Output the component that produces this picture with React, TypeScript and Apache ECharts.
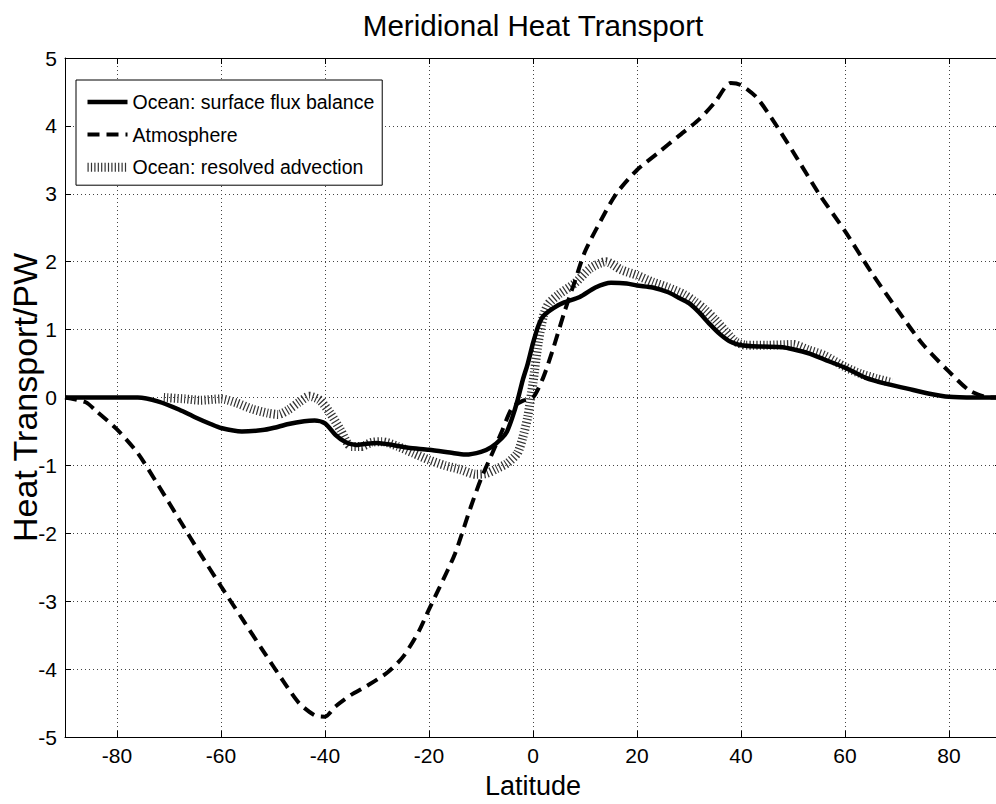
import React, { useEffect, useRef } from "react";
import * as echarts from "echarts";

const xTicks = [-80, -60, -40, -20, 0, 20, 40, 60, 80];

const oceanLat = [-90, -85, -80, -76, -72, -68, -65, -62, -60, -56, -52, -50, -47, -44, -42, -40, -38, -36, -34, -32, -30, -27, -24, -20, -16, -13, -10, -8, -6, -5, -4, -3, -2, -1, 0, 1, 2, 4, 6, 9, 12, 15, 18, 20, 23, 26, 28, 30, 32, 34, 36, 38, 40, 44, 48, 50, 53, 56, 60, 64, 68, 72, 76, 80, 85, 90];
const oceanVal = [0, 0, 0, 0, -0.06, -0.18, -0.29, -0.39, -0.45, -0.5, -0.48, -0.45, -0.39, -0.35, -0.34, -0.38, -0.55, -0.66, -0.7, -0.68, -0.67, -0.7, -0.74, -0.77, -0.81, -0.84, -0.8, -0.73, -0.6, -0.5, -0.3, -0.05, 0.25, 0.5, 0.8, 1.05, 1.2, 1.32, 1.4, 1.48, 1.62, 1.69, 1.68, 1.65, 1.62, 1.55, 1.47, 1.39, 1.25, 1.08, 0.93, 0.82, 0.77, 0.75, 0.74, 0.71, 0.65, 0.56, 0.44, 0.29, 0.2, 0.13, 0.06, 0.01, 0, 0];

const atmLat = [-90, -86, -84, -80, -76, -72, -68, -64, -60, -56, -52, -48, -45, -42, -40, -38, -35, -32, -28, -25, -22, -20, -18, -15, -12, -10, -8, -6, -4, -2, 0, 2, 4, 6, 8, 10, 13, 16, 20, 24, 28, 32, 35, 38, 40, 43, 46, 50, 55, 60, 65, 70, 75, 80, 84, 88, 90];
const atmVal = [0, -0.07, -0.2, -0.47, -0.82, -1.3, -1.8, -2.3, -2.78, -3.25, -3.72, -4.18, -4.5, -4.68, -4.7, -4.55, -4.38, -4.25, -4.05, -3.82, -3.45, -3.12, -2.8, -2.3, -1.62, -1.2, -0.85, -0.5, -0.15, -0.05, 0, 0.3, 0.75, 1.25, 1.7, 2.15, 2.6, 3.0, 3.35, 3.6, 3.85, 4.1, 4.35, 4.63, 4.6, 4.42, 4.1, 3.62, 3.0, 2.45, 1.85, 1.3, 0.78, 0.38, 0.1, 0, 0];

const advLat = [-71, -67, -64, -60, -57, -54, -51, -49, -47, -45, -43, -41, -39, -37, -35, -33, -31, -29, -26, -23, -20, -17, -14, -11, -9, -7, -5, -3, -2, -1, 0, 1, 2, 3, 5, 8, 11, 14, 17, 20, 23, 26, 29, 31, 33, 35, 37, 39, 41, 45, 50, 53, 56, 60, 63, 66, 69];
const advVal = [0, -0.02, -0.04, -0.02, -0.08, -0.17, -0.23, -0.25, -0.18, -0.07, 0.02, -0.04, -0.23, -0.48, -0.72, -0.72, -0.66, -0.65, -0.72, -0.82, -0.92, -1.0, -1.06, -1.13, -1.12, -1.05, -0.97, -0.82, -0.6, -0.28, 0.22, 0.8, 1.2, 1.38, 1.52, 1.68, 1.9, 2.0, 1.88, 1.8, 1.7, 1.62, 1.52, 1.42, 1.3, 1.15, 0.98, 0.82, 0.77, 0.77, 0.78, 0.7, 0.62, 0.45, 0.35, 0.28, 0.22];

const seriesNames = ["Ocean: surface flux balance", "Atmosphere", "Ocean: resolved advection"];

const FONT = "Liberation Sans, Arial, Helvetica, sans-serif";

function pairs(xs: number[], ys: number[]) {
  return xs.map((x, i) => [x, ys[i]]);
}

export default function App() {
  const ref = useRef<HTMLDivElement>(null);
  useEffect(() => {
    if (!ref.current) return;
    const chart = echarts.init(ref.current, undefined, { renderer: "svg" });
    const gridDot = { show: true, lineStyle: { color: "#444", width: 1, type: [1, 3] as any } };
    chart.setOption({
      animation: false,
      backgroundColor: "#fff",
      title: {
        text: "Meridional Heat Transport",
        left: 528,
        textAlign: "center",
        top: 5,
        textStyle: { fontFamily: FONT, fontSize: 29.6, fontWeight: "normal", color: "#000" },
      },
      legend: {
        orient: "vertical",
        left: 76,
        top: 80,
        data: seriesNames,
        itemWidth: 40,
        itemHeight: 14,
        itemGap: 12.6,
        padding: [12, 8, 8, 7],
        borderColor: "#000",
        borderWidth: 1,
        borderRadius: 0,
        backgroundColor: "#fff",
        itemStyle: { opacity: 0 },
        lineStyle: { width: "inherit" },
        textStyle: { fontFamily: FONT, fontSize: 19.5, color: "#000", lineHeight: 20 },
        z: 10,
      },
      grid: { left: 65, top: 58, width: 936, height: 679, containLabel: false, outerBoundsMode: "none" },
      xAxis: [
        {
          type: "value",
          min: -90,
          max: 90,
          name: "Latitude",
          nameLocation: "middle",
          nameGap: 35,
          nameMoveOverlap: false,
          nameTextStyle: { fontFamily: FONT, fontSize: 27, color: "#000" },
          axisLine: { show: true, onZero: false, lineStyle: { color: "#000", width: 1 } },
          axisTick: { show: true, inside: true, length: 6, customValues: xTicks, lineStyle: { color: "#000" } },
          axisLabel: { show: true, customValues: xTicks, margin: 8, fontFamily: FONT, fontSize: 21, color: "#000" },
          splitLine: gridDot,
        },
        {
          type: "value",
          min: -90,
          max: 90,
          position: "top",
          axisLine: { show: true, onZero: false, lineStyle: { color: "#000", width: 1 } },
          axisTick: { show: true, inside: true, length: 6, customValues: xTicks, lineStyle: { color: "#000" } },
          axisLabel: { show: false },
          splitLine: { show: false },
        },
      ],
      yAxis: [
        {
          type: "value",
          min: -5,
          max: 5,
          interval: 1,
          name: "Heat Transport/PW",
          nameLocation: "middle",
          nameGap: 23,
          nameMoveOverlap: false,
          nameTextStyle: { fontFamily: FONT, fontSize: 34, color: "#000" },
          axisLine: { show: true, onZero: false, lineStyle: { color: "#000", width: 1 } },
          axisTick: { show: true, inside: true, length: 6, lineStyle: { color: "#000" } },
          axisLabel: { show: true, margin: 8, fontFamily: FONT, fontSize: 21, color: "#000" },
          splitLine: gridDot,
        },
        {
          type: "value",
          min: -5,
          max: 5,
          interval: 1,
          position: "right",
          axisLine: { show: true, onZero: false, lineStyle: { color: "#000", width: 1 } },
          axisTick: { show: true, inside: true, length: 6, lineStyle: { color: "#000" } },
          axisLabel: { show: false },
          splitLine: { show: false },
        },
      ],
      series: [
        {
          name: seriesNames[2],
          type: "line",
          xAxisIndex: 0,
          yAxisIndex: 0,
          data: pairs(advLat, advVal),
          symbol: "none",
          smooth: 0.25,
          z: 2,
          lineStyle: { color: "#333", width: 9, type: [1.2, 2.2] as any, cap: "butt" },
          itemStyle: { color: "#333" },
        },
        {
          name: seriesNames[0],
          type: "line",
          xAxisIndex: 0,
          yAxisIndex: 0,
          data: pairs(oceanLat, oceanVal),
          symbol: "none",
          smooth: 0.25,
          z: 3,
          lineStyle: { color: "#000", width: 4.5, type: "solid" },
          itemStyle: { color: "#000" },
        },
        {
          name: seriesNames[1],
          type: "line",
          xAxisIndex: 0,
          yAxisIndex: 0,
          data: pairs(atmLat, atmVal),
          symbol: "none",
          smooth: 0.25,
          z: 4,
          lineStyle: { color: "#000", width: 4, type: [12, 7] as any, cap: "butt" },
          itemStyle: { color: "#000" },
        },
      ],
    });
    return () => chart.dispose();
  }, []);
  return (
    <div
      ref={ref}
      style={{ position: "absolute", left: 0, top: 0, width: 996, height: 804, background: "#fff" }}
    />
  );
}
